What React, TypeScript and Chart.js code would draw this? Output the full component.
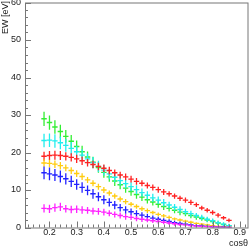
import React, { useEffect, useRef } from "react";
import { Chart, registerables } from "chart.js";

Chart.register(...registerables);

const cosTheta = [0.18, 0.2, 0.22, 0.24, 0.26, 0.28, 0.3, 0.32, 0.34, 0.36, 0.38, 0.4, 0.42, 0.44, 0.46, 0.48, 0.5, 0.52, 0.54, 0.56, 0.58, 0.6, 0.62, 0.64, 0.66, 0.68, 0.7, 0.72, 0.74, 0.76, 0.78, 0.8, 0.82, 0.84, 0.86];

const greenEW = [29.0, 28.0, 26.8, 25.6, 24.3, 23.0, 21.6, 20.2, 18.8, 17.4, 16.0, 14.7, 13.5, 12.4, 11.4, 10.5, 9.6, 8.8, 8.1, 7.4, 6.8, 6.2, 5.6, 5.1, 4.6, 4.1, 3.7, 3.2, 2.8, 2.4, 2.0, 1.6, 1.2, 0.8, 0.5];
const greenErr = [1.9, 1.9, 1.8, 1.8, 1.7, 1.7, 1.6, 1.6, 1.5, 1.5, 1.4, 1.4, 1.3, 1.3, 1.2, 1.2, 1.1, 1.1, 1.0, 1.0, 0.9, 0.9, 0.9, 0.8, 0.8, 0.8, 0.7, 0.7, 0.7, 0.6, 0.6, 0.6, 0.5, 0.5, 0.4];

const cyanEW = [23.2, 23.3, 23.1, 22.6, 21.9, 21.1, 20.2, 19.3, 18.3, 17.3, 16.3, 15.3, 14.3, 13.4, 12.5, 11.7, 10.9, 10.1, 9.3, 8.6, 7.9, 7.3, 6.6, 6.0, 5.4, 4.8, 4.2, 3.7, 3.2, 2.7, 2.2, 1.8, 1.3, 0.9, 0.5];
const cyanErr = [1.8, 1.8, 1.8, 1.7, 1.7, 1.7, 1.6, 1.6, 1.5, 1.5, 1.5, 1.4, 1.4, 1.3, 1.3, 1.3, 1.2, 1.2, 1.1, 1.1, 1.1, 1.0, 1.0, 0.9, 0.9, 0.9, 0.8, 0.8, 0.7, 0.7, 0.7, 0.6, 0.6, 0.5, 0.5];

const redEW = [19.0, 19.2, 19.3, 19.2, 19.0, 18.7, 18.3, 17.8, 17.3, 16.8, 16.3, 15.8, 15.2, 14.6, 14.0, 13.5, 12.9, 12.3, 11.8, 11.2, 10.7, 10.1, 9.5, 9.0, 8.4, 7.8, 7.3, 6.7, 6.1, 5.2, 4.6, 4.0, 3.3, 2.6, 1.9];
const redErr = [1.2, 1.2, 1.2, 1.2, 1.1, 1.1, 1.1, 1.1, 1.0, 1.0, 1.0, 1.0, 1.0, 0.9, 0.9, 0.9, 0.9, 0.9, 0.8, 0.8, 0.8, 0.8, 0.8, 0.7, 0.7, 0.7, 0.7, 0.7, 0.6, 0.6, 0.6, 0.6, 0.6, 0.5, 0.5];

const yellowEW = [17.2, 17.1, 16.9, 16.5, 15.9, 15.2, 14.4, 13.6, 12.7, 11.8, 10.9, 10.0, 9.2, 8.4, 7.6, 6.9, 6.2, 5.6, 5.0, 4.5, 4.0, 3.5, 3.1, 2.7, 2.3, 2.0, 1.7, 1.4, 1.1, 0.9, 0.7, 0.5, 0.3, 0.2, 0.1];
const yellowErr = [1.0, 1.0, 1.0, 1.0, 0.9, 0.9, 0.9, 0.9, 0.8, 0.8, 0.8, 0.8, 0.7, 0.7, 0.7, 0.7, 0.6, 0.6, 0.6, 0.6, 0.5, 0.5, 0.5, 0.5, 0.4, 0.4, 0.4, 0.4, 0.3, 0.3, 0.3, 0.3, 0.3, 0.2, 0.2];

const blueEW = [14.6, 14.3, 14.0, 13.6, 13.0, 12.3, 11.5, 10.7, 9.9, 9.0, 8.2, 7.4, 6.7, 6.0, 5.3, 4.7, 4.2, 3.7, 3.3, 2.9, 2.5, 2.2, 1.9, 1.6, 1.3, 1.1, 0.9, 0.7, 0.5, 0.4, 0.3, 0.2, 0.1, 0.1, 0.05];
const blueErr = [1.7, 1.7, 1.6, 1.6, 1.5, 1.5, 1.4, 1.4, 1.3, 1.3, 1.2, 1.2, 1.1, 1.1, 1.0, 1.0, 0.9, 0.9, 0.8, 0.8, 0.7, 0.7, 0.6, 0.6, 0.5, 0.5, 0.5, 0.4, 0.4, 0.4, 0.3, 0.3, 0.3, 0.3, 0.3];

const magentaEW = [5.1, 5.0, 5.3, 5.5, 5.0, 4.8, 4.9, 4.7, 4.6, 4.4, 4.3, 4.1, 3.8, 3.5, 3.2, 2.9, 2.7, 2.4, 2.2, 2.0, 1.8, 1.6, 1.4, 1.2, 1.0, 0.8, 0.7, 0.5, 0.4, 0.3, 0.2, 0.15, 0.1, 0.05, 0.03];
const magentaErr = [1.1, 1.1, 1.1, 1.1, 1.0, 1.0, 1.0, 1.0, 0.9, 0.9, 0.9, 0.9, 0.8, 0.8, 0.8, 0.8, 0.7, 0.7, 0.7, 0.6, 0.6, 0.6, 0.5, 0.5, 0.5, 0.4, 0.4, 0.4, 0.4, 0.3, 0.3, 0.3, 0.3, 0.3, 0.3];

const binHalfWidth = 0.01;
const xTickLabels = [0.2, 0.3, 0.4, 0.5, 0.6, 0.7, 0.8, 0.9];
const yTickLabels = [0, 10, 20, 30, 40, 50, 60];

const seriesList = [
  { name: "green", color: "#33ee33", values: greenEW, errors: greenErr },
  { name: "cyan", color: "#22eeee", values: cyanEW, errors: cyanErr },
  { name: "red", color: "#ff2222", values: redEW, errors: redErr },
  { name: "yellow", color: "#ffcc11", values: yellowEW, errors: yellowErr },
  { name: "blue", color: "#2222ff", values: blueEW, errors: blueErr },
  { name: "magenta", color: "#ff22ff", values: magentaEW, errors: magentaErr },
];

const FONT = "'Liberation Sans', Arial, sans-serif";

const rootStylePlugin = {
  id: "rootStyle",
  afterDatasetsDraw(chart: any) {
    const ctx = chart.ctx;
    const xs = chart.scales.x;
    const ys = chart.scales.y;
    const area = chart.chartArea;
    ctx.save();
    ctx.beginPath();
    ctx.rect(area.left, area.top, area.right - area.left, area.bottom - area.top);
    ctx.clip();
    ctx.lineWidth = 1.3;
    chart.data.datasets.forEach((ds: any) => {
      ctx.strokeStyle = ds.borderColor;
      ds.data.forEach((p: any) => {
        const px = xs.getPixelForValue(p.x);
        const py = ys.getPixelForValue(p.y);
        const x0 = xs.getPixelForValue(p.x - binHalfWidth);
        const x1 = xs.getPixelForValue(p.x + binHalfWidth);
        const y0 = ys.getPixelForValue(p.y - p.err);
        const y1 = ys.getPixelForValue(p.y + p.err);
        ctx.beginPath();
        ctx.moveTo(x0, py);
        ctx.lineTo(x1, py);
        ctx.moveTo(px, y0);
        ctx.lineTo(px, y1);
        ctx.stroke();
      });
    });
    ctx.restore();

    // frame and ticks
    ctx.save();
    ctx.strokeStyle = "#777";
    ctx.lineWidth = 1;
    ctx.strokeRect(area.left + 0.5, area.top + 0.5, area.right - area.left - 0.5, area.bottom - area.top);
    ctx.beginPath();
    for (let v = 0; v <= 60.001; v += 2) {
      const py = Math.round(ys.getPixelForValue(v)) + 0.5;
      const len = Math.abs(v % 10) < 0.01 ? 6 : 3;
      ctx.moveTo(area.left, py);
      ctx.lineTo(area.left + len, py);
    }
    for (let i = 6; i <= 46; i++) {
      const v = i * 0.02;
      if (v < xs.min || v > xs.max) continue;
      const px = Math.round(xs.getPixelForValue(v)) + 0.5;
      const len = i % 5 === 0 ? 6 : 3;
      ctx.moveTo(px, area.bottom);
      ctx.lineTo(px, area.bottom - len);
    }
    ctx.stroke();
    ctx.restore();

    // axis titles
    ctx.save();
    ctx.fillStyle = "#222";
    ctx.font = `9px ${FONT}`;
    ctx.textAlign = "right";
    ctx.textBaseline = "alphabetic";
    ctx.fillText("cosθ", 248, 245.5);
    ctx.translate(8, 1);
    ctx.rotate(-Math.PI / 2);
    ctx.textAlign = "right";
    ctx.fillText("EW [eV]", 0, 0);
    ctx.restore();
  },
};

export default function App() {
  const canvasRef = useRef<HTMLCanvasElement | null>(null);

  useEffect(() => {
    document.body.style.margin = "0";
    const canvas = canvasRef.current;
    if (!canvas) return;
    const datasets = seriesList.map((s) => ({
      label: s.name,
      data: cosTheta.map((x, i) => ({ x, y: s.values[i], err: s.errors[i] })),
      borderColor: s.color,
      backgroundColor: s.color,
      pointRadius: 0,
      showLine: false,
    }));
    const chart = new Chart(canvas, {
      type: "scatter",
      data: { datasets },
      options: {
        animation: false,
        responsive: false,
        devicePixelRatio: 1,
        layout: { padding: { left: 0, right: 1, top: 2.5, bottom: 0 } },
        plugins: { legend: { display: false }, tooltip: { enabled: false } },
        scales: {
          x: {
            type: "linear",
            min: 0.11,
            max: 0.93,
            grid: { display: false, drawTicks: false },
            border: { display: false },
            ticks: {
              padding: 0,
              color: "#222",
              font: { size: 9, family: FONT },
              maxRotation: 0,
              autoSkip: false,
              callback: (v: any) => Number(v).toFixed(1),
            },
            afterBuildTicks: (scale: any) => {
              scale.ticks = xTickLabels.map((v) => ({ value: v }));
            },
            afterFit: (scale: any) => {
              scale.height = 19.5;
              scale.paddingLeft = 0;
              scale.paddingRight = 0;
            },
          },
          y: {
            type: "linear",
            min: 0,
            max: 60,
            grid: { display: false, drawTicks: false },
            border: { display: false },
            ticks: {
              padding: 4,
              color: "#222",
              font: { size: 9, family: FONT },
              autoSkip: false,
            },
            afterBuildTicks: (scale: any) => {
              scale.ticks = yTickLabels.map((v) => ({ value: v }));
            },
            afterFit: (scale: any) => {
              scale.width = 25;
              scale.paddingTop = 0;
              scale.paddingBottom = 0;
            },
          },
        },
      },
      plugins: [rootStylePlugin],
    });
    return () => chart.destroy();
  }, []);

  return (
    <div style={{ width: 249, height: 247 }}>
      <canvas ref={canvasRef} width={249} height={247} style={{ display: "block" }} />
    </div>
  );
}
